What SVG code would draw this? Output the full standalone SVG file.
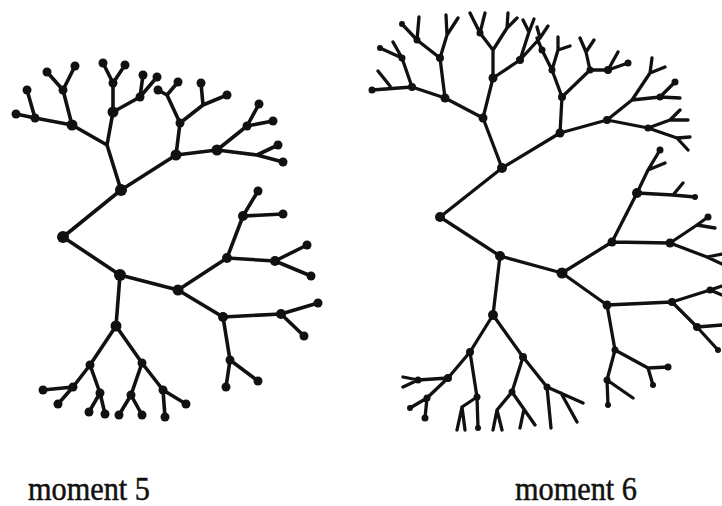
<svg xmlns="http://www.w3.org/2000/svg" width="722" height="506" viewBox="0 0 722 506">
<style>
.e{fill:none;stroke:#111;stroke-width:3.6;stroke-linecap:round;stroke-linejoin:round}
.e6{fill:none;stroke:#111;stroke-width:3.3;stroke-linecap:round;stroke-linejoin:round}
.n{fill:#111}
.lbl{font-family:"Liberation Serif","Times New Roman",serif;font-size:33px;fill:#111;stroke:#111;stroke-width:0.5}
</style>
<rect width="722" height="506" fill="#fff"/>
<g id="connectors">
<path id="edges-moment5" class="e" d="M63,237L121,190M63,237L120,275
M121,190L107,145L72,125M107,145L113,112
M72,125L35,118L16,114M35,118L27,90M72,125L63,90L47,72M63,90L75,66
M113,112L113,83L103,63M113,83L125,65M113,112L140,97L143,75M140,97L157,77
M121,190L176,155L180,123L167,95L158,90M167,95L178,82M180,123L203,105L201,83M203,105L227,95
M176,155L217,150L247,126L259,104M247,126L273,121M217,150L257,155L278,145M257,155L283,162
M120,275L178,290M120,275L116,326
M116,326L90,365L73,387L43,390M73,387L58,404M90,365L100,393L89,412M100,393L105,414
M116,326L142,363L131,395L119,415M131,395L142,415M142,363L163,390L165,417M163,390L186,404
M178,290L227,258L243,216L258,191M243,216L283,214M227,258L275,261L307,245M275,261L311,276
M178,290L223,317L281,314L318,303M281,314L304,336M223,317L230,360L226,387M230,360L258,381"/>
<path id="edges-moment6" class="e6" d="M440,217L502,168M440,217L500,256
M502,168L483,118L445,98L412,87L372,90M390,86L378,71M412,87L402,58L380,48M402,58L393,42
M445,98L440,58L417,40L402,24M417,40L419,17M440,58L447,35L446,15M447,35L458,18
M483,118L493,78L493,50L480,33L470,13M480,33L485,13M493,50L507,28L508,13M507,28L517,18
M493,78L520,60L529,32L523,20M529,32L534,19M520,60L540,38L548,26M540,38L537,27
M502,168L560,133L562,97L552,70L542,50L537,38M552,70L558,50L558,37M558,50L570,46
M562,97L590,70L586,52L580,38M586,52L594,40M590,70L608,70L618,52M608,70L628,63
M560,133L607,120L632,100L650,73L652,58M650,73L665,67M632,100L660,97L675,82M660,97L680,98
M607,120L648,128L670,120L680,110M670,120L688,120M648,128L677,138L690,137M677,138L688,150
M500,256L562,273M500,256L493,315
M562,273L612,242L637,193L648,170L660,150M648,170L665,163M637,193L673,195L683,183M673,195L695,197
M612,242L670,243L697,225L708,217M697,225L715,228M670,243L707,257L722,264M707,257L722,254
M562,273L607,305L672,302L710,290L722,286M710,290L722,295M672,302L697,327L722,325M697,327L718,350
M607,305L615,350L648,368L668,367M648,368L653,385M615,350L607,380L633,398M607,380L608,405
M493,315L470,352L448,378L418,380L403,377M418,380L403,387M448,378L427,398L410,408M427,398L425,418
M470,352L477,397L462,407L457,430M462,407L465,430M477,397L478,428
M493,315L523,357L512,392L497,410L493,430M497,410L502,430M512,392L535,425M524,409L520,428
M523,357L547,387L551,428M547,387L583,403M561,393L577,422"/>
</g>
<g id="nodes-moment5" class="n">
<circle cx="63" cy="237" r="6"/><circle cx="121" cy="190" r="6"/><circle cx="120" cy="275" r="6"/>
<circle cx="72" cy="125" r="5.5"/><circle cx="113" cy="112" r="5.5"/><circle cx="176" cy="155" r="5.5"/>
<circle cx="35" cy="118" r="4.5"/><circle cx="16" cy="114" r="4.5"/><circle cx="27" cy="90" r="4.5"/>
<circle cx="63" cy="90" r="4.5"/><circle cx="47" cy="72" r="4.5"/><circle cx="75" cy="66" r="4.5"/>
<circle cx="113" cy="83" r="4.5"/><circle cx="103" cy="63" r="4.5"/><circle cx="125" cy="65" r="4.5"/>
<circle cx="140" cy="97" r="4.5"/><circle cx="143" cy="75" r="4.5"/><circle cx="157" cy="77" r="4.5"/>
<circle cx="180" cy="123" r="4.5"/><circle cx="158" cy="90" r="4.5"/><circle cx="178" cy="82" r="4.5"/>
<circle cx="201" cy="83" r="4.5"/><circle cx="227" cy="95" r="4.5"/>
<circle cx="217" cy="150" r="5.5"/><circle cx="247" cy="126" r="4.5"/><circle cx="259" cy="104" r="4.5"/><circle cx="273" cy="121" r="4.5"/>
<circle cx="278" cy="145" r="4.5"/><circle cx="283" cy="162" r="4.5"/>
<circle cx="178" cy="290" r="5.5"/><circle cx="116" cy="326" r="5.5"/>
<circle cx="90" cy="365" r="4.5"/><circle cx="73" cy="387" r="4.5"/><circle cx="43" cy="390" r="4.5"/><circle cx="58" cy="404" r="4.5"/>
<circle cx="100" cy="393" r="4.5"/><circle cx="89" cy="412" r="4.5"/><circle cx="105" cy="414" r="4.5"/>
<circle cx="142" cy="363" r="4.5"/><circle cx="131" cy="395" r="4.5"/><circle cx="119" cy="415" r="4.5"/><circle cx="142" cy="415" r="4.5"/>
<circle cx="163" cy="390" r="4.5"/><circle cx="165" cy="417" r="4.5"/><circle cx="186" cy="404" r="4.5"/>
<circle cx="227" cy="258" r="5"/><circle cx="243" cy="216" r="5"/><circle cx="258" cy="191" r="4.5"/><circle cx="283" cy="214" r="4.5"/>
<circle cx="275" cy="261" r="5"/><circle cx="307" cy="245" r="4.5"/><circle cx="311" cy="276" r="4.5"/>
<circle cx="223" cy="317" r="5"/><circle cx="281" cy="314" r="5"/><circle cx="318" cy="303" r="4.5"/><circle cx="304" cy="336" r="4.5"/>
<circle cx="230" cy="360" r="4.5"/><circle cx="226" cy="387" r="4.5"/><circle cx="258" cy="381" r="4.5"/>
</g>
<g id="nodes-moment6" class="n">
<circle cx="440" cy="217" r="5"/><circle cx="502" cy="168" r="5"/><circle cx="500" cy="256" r="5"/>
<circle cx="483" cy="118" r="4.5"/><circle cx="445" cy="98" r="4.5"/><circle cx="493" cy="78" r="4.5"/>
<circle cx="560" cy="133" r="4.5"/><circle cx="562" cy="97" r="4"/><circle cx="607" cy="120" r="4"/>
<circle cx="412" cy="87" r="4"/><circle cx="440" cy="58" r="4"/><circle cx="402" cy="58" r="3.5"/>
<circle cx="417" cy="40" r="3.5"/><circle cx="480" cy="33" r="3.5"/><circle cx="520" cy="60" r="4"/>
<circle cx="552" cy="70" r="3.5"/><circle cx="542" cy="50" r="3.5"/><circle cx="590" cy="70" r="3.5"/><circle cx="608" cy="70" r="4"/>
<circle cx="648" cy="128" r="3.5"/><circle cx="660" cy="97" r="3.5"/><circle cx="372" cy="90" r="3.5"/><circle cx="380" cy="48" r="3"/>
<circle cx="402" cy="24" r="3"/><circle cx="628" cy="63" r="3.5"/><circle cx="675" cy="82" r="3.5"/>
<circle cx="562" cy="273" r="5.5"/><circle cx="493" cy="315" r="5"/><circle cx="612" cy="242" r="4.5"/>
<circle cx="637" cy="193" r="5"/><circle cx="670" cy="243" r="4.5"/><circle cx="607" cy="305" r="4.5"/>
<circle cx="672" cy="302" r="4"/><circle cx="697" cy="327" r="4"/><circle cx="710" cy="290" r="3.5"/><circle cx="718" cy="350" r="3"/>
<circle cx="615" cy="350" r="3.5"/><circle cx="607" cy="380" r="3.5"/><circle cx="608" cy="405" r="3"/>
<circle cx="668" cy="367" r="3.5"/><circle cx="653" cy="385" r="3"/><circle cx="660" cy="150" r="3.5"/>
<circle cx="695" cy="197" r="3"/><circle cx="708" cy="217" r="3.5"/>
<circle cx="470" cy="352" r="4"/><circle cx="523" cy="357" r="4"/><circle cx="448" cy="378" r="4"/>
<circle cx="418" cy="380" r="3.5"/><circle cx="427" cy="398" r="3.5"/><circle cx="425" cy="418" r="3.5"/>
<circle cx="477" cy="397" r="3.5"/><circle cx="512" cy="392" r="3.5"/><circle cx="547" cy="387" r="3.5"/>
<circle cx="478" cy="428" r="3"/><circle cx="410" cy="408" r="3"/>
</g>
<g id="labels">
<text class="lbl" x="28" y="500" textLength="122" lengthAdjust="spacingAndGlyphs">moment 5</text>
<text class="lbl" x="515" y="500" textLength="122" lengthAdjust="spacingAndGlyphs">moment 6</text>
</g>
</svg>
